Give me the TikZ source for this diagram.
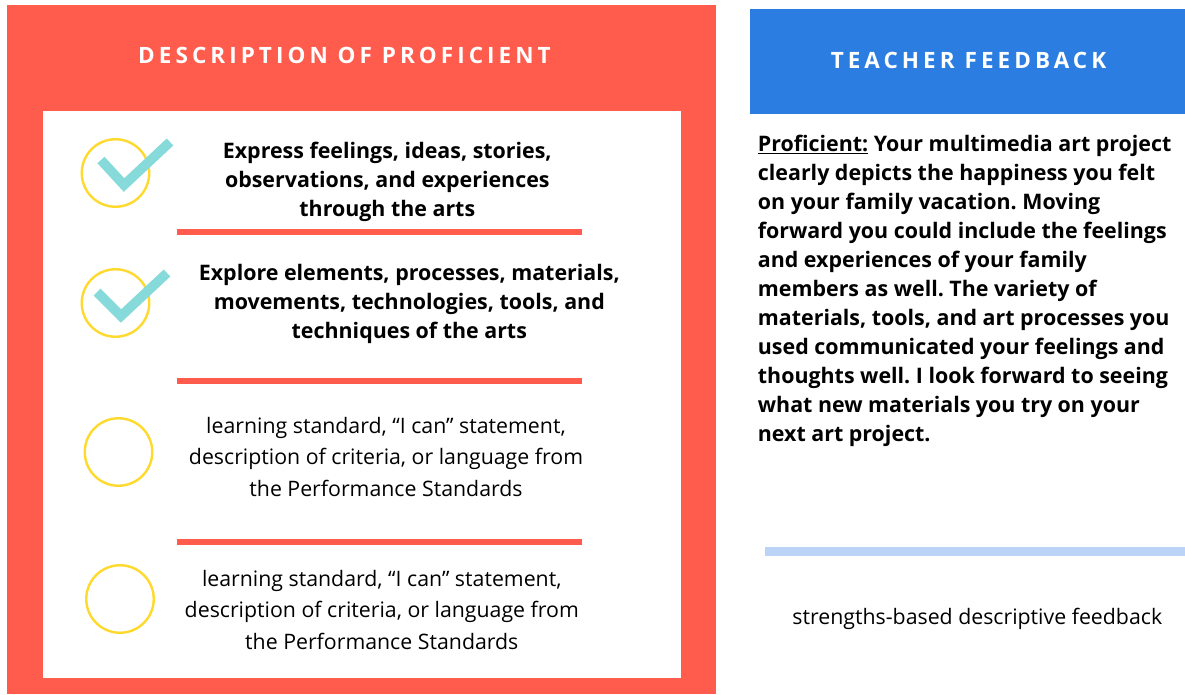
\documentclass[tikz,border=0pt]{standalone}
\usepackage{fontspec}
\setmainfont{Open Sans}
\definecolor{coral}{HTML}{FF5C4D}
\definecolor{tblue}{HTML}{2B7DE1}
\definecolor{lblue}{HTML}{BBD4F5}
\definecolor{ring}{HTML}{FFDA2E}
\definecolor{tick}{HTML}{87DADA}
\tikzset{x=1pt,y=-1pt,
 ringn/.style={circle,draw=ring,line width=2.4pt,minimum size=67.5pt,inner sep=0pt,outer sep=0pt},
 tickl/.style={draw=tick,line width=9.6pt,line cap=butt,line join=miter},
 rule/.style={fill=coral,draw=none},
 head/.style={text=white,font=\fontsize{22.5}{27}\selectfont\bfseries,inner sep=0pt},
 bt/.style={align=center,text=black,font=\fontsize{21.4}{29}\selectfont\bfseries\frenchspacing,inner sep=0pt},
 nt/.style={align=center,text=black,font=\fontsize{21.3}{31.5}\selectfont\frenchspacing,inner sep=0pt},
}
\newcommand{\spaced}[2]{\addfontfeature{LetterSpace=#1}#2}
\begin{document}
\begin{tikzpicture}
\useasboundingbox (0,0) rectangle (1185,694);
\fill[white] (0,0) rectangle (1185,694);
\fill[coral] (7,5) rectangle (716,694);
\fill[white] (43,111) rectangle (681,678);
\fill[tblue] (750,9) rectangle (1185,114);
\fill[lblue] (765,547) rectangle (1185,556);
\node[head] (h1) at (344.5,55.5) {\spaced{18}{DESCRIPTION OF PROFICIENT}};
\node[head] (h2) at (968.5,60.5) {\spaced{18}{TEACHER FEEDBACK}};
\node[ringn] (r1) at (115.5,173) {};
\node[ringn] (r2) at (115.5,303) {};
\node[ringn] (r3) at (118.5,452) {};
\node[ringn] (r4) at (120,599) {};
\draw[tickl] (101,160) -- (124,185) -- (170,142);
\draw[tickl] (97,292) -- (121,316) -- (167,273);
\node[bt] (t1) at (387.3,181.5) {Express feelings, ideas, stories,\\observations, and experiences\\through the arts};
\node[bt] (t2) at (409.3,303.5) {Explore elements, processes, materials,\\movements, technologies, tools, and\\techniques of the arts};
\node[nt] (t3) at (386,456.8) {learning standard, “I can” statement,\\description of criteria, or language from\\the Performance Standards};
\node[nt] (t4) at (381.8,609.8) {learning standard, “I can” statement,\\description of criteria, or language from\\the Performance Standards};
\fill[rule] (177,229) rectangle (582,234.5);
\fill[rule] (177,378) rectangle (582,383.5);
\fill[rule] (177,539) rectangle (582,544.5);
\node[anchor=north west,align=left,text=black,font=\fontsize{21.4}{29}\selectfont\bfseries\frenchspacing,inner sep=0pt] (fb) at (757.7,135) {\underline{Proficient:} Your multimedia art project\\clearly depicts the happiness you felt\\on your family vacation. Moving\\forward you could include the feelings\\and experiences of your family\\members as well. The variety of\\materials, tools, and art processes you\\used communicated your feelings and\\thoughts well. I look forward to seeing\\what new materials you try on your\\next art project.};
\node[text=black,font=\fontsize{21.3}{26}\selectfont,inner sep=0pt] (sb) at (977.3,618.5) {strengths-based descriptive feedback};
\end{tikzpicture}
\end{document}
